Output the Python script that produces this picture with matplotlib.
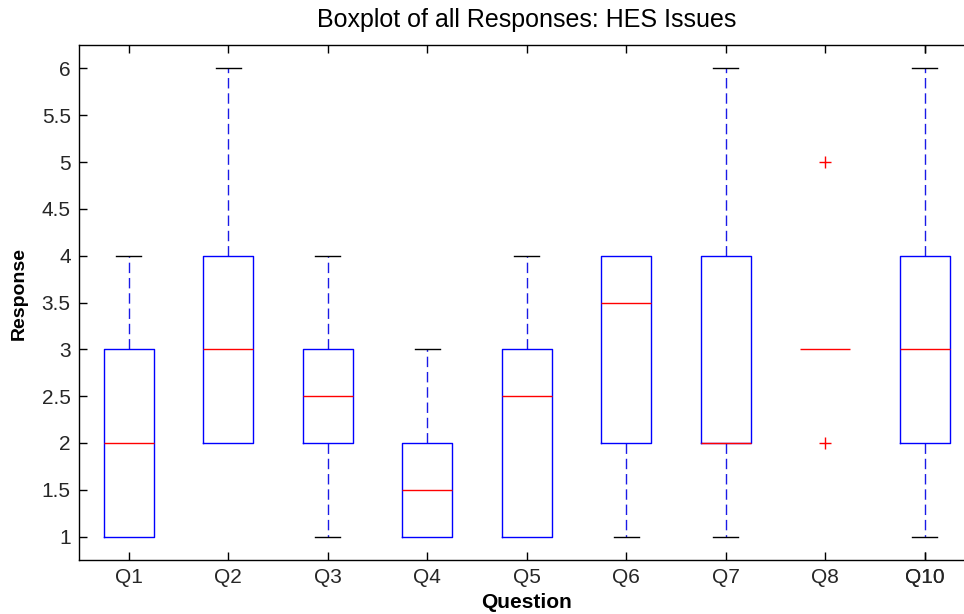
import matplotlib
matplotlib.use("Agg")
import matplotlib.pyplot as plt

plt.rcParams['font.family'] = ['Liberation Sans', 'DejaVu Sans']

# Box summary for each question
questions = ["Q1", "Q2", "Q3", "Q4", "Q5", "Q6", "Q7", "Q8", "Q9"]
medians = [2, 3, 2.5, 1.5, 2.5, 3.5, 2, 3, 3]
q1s = [1, 2, 2, 1, 1, 2, 2, 3, 2]
q3s = [3, 4, 3, 2, 3, 4, 4, 3, 4]
whislo = [1, 2, 1, 1, 1, 1, 1, 3, 1]
whishi = [4, 6, 4, 3, 4, 4, 6, 3, 6]
outliers = [[], [], [], [], [], [], [], [2, 5], []]
extra_label = "Q10"
yticks = [1, 1.5, 2, 2.5, 3, 3.5, 4, 4.5, 5, 5.5, 6]

stats = []
for name, med, lo, hi, wl, wh, fl in zip(questions, medians, q1s, q3s,
                                          whislo, whishi, outliers):
    stats.append(dict(label=name, med=med, q1=lo, q3=hi,
                      whislo=wl, whishi=wh, fliers=fl))

fig = plt.figure(figsize=(9.64, 6.14), dpi=100)
ax = fig.add_axes([79 / 964, 54 / 614, 895.5 / 964, 515 / 614])

positions = list(range(1, len(questions) + 1))
parts = ax.bxp(stats, positions=positions, widths=0.5, showfliers=True,
               boxprops=dict(color="#0000ff", linewidth=1.0),
               medianprops=dict(color="#ff0000", linewidth=1.0),
               whiskerprops=dict(color="#1a1ae6", linewidth=1.0,
                                 linestyle=(0, (7.5, 3.5))),
               capprops=dict(color="black", linewidth=1.0),
               capwidths=0.25,
               flierprops=dict(marker="+", markeredgecolor="#ff0000",
                               markersize=9, markeredgewidth=1.0,
                               linestyle="none"))

# draw order: whiskers/caps below boxes, medians on top
for ln in parts["whiskers"] + parts["caps"]:
    ln.set_zorder(2)
for ln in parts["boxes"]:
    ln.set_zorder(3)
for ln in parts["medians"]:
    ln.set_zorder(4)
# a box with no spread shows only its median line
for box, lo, hi in zip(parts["boxes"], q1s, q3s):
    if lo == hi:
        box.set_visible(False)
# zero-length whiskers leave no visible cap
for i, (lo, hi, wl, wh) in enumerate(zip(q1s, q3s, whislo, whishi)):
    if wl == lo:
        parts["caps"][2 * i].set_visible(False)
    if wh == hi:
        parts["caps"][2 * i + 1].set_visible(False)

ax.set_xlim(0.5, len(questions) + 0.5)
ax.set_ylim(0.75, 6.25)
ax.set_yticks(yticks)
ax.set_yticklabels([f"{v:g}" for v in yticks])
# the extra label shares the last tick position
ax.set_xticks(positions + [positions[-1]])
ax.set_xticklabels(questions + [extra_label])

ax.tick_params(direction="in", top=True, right=True, length=6, width=1.0,
               labelsize=15, labelcolor="#262626", pad=6)
for sp in ax.spines.values():
    sp.set_linewidth(1.0)

ax.set_title("Boxplot of all Responses: HES Issues", fontsize=18, pad=13)
ax.set_xlabel("Question", fontsize=15, fontweight="bold", labelpad=4)
ax.set_ylabel("Response", fontsize=14, fontweight="bold")
ax.yaxis.set_label_coords(-0.057, 0.517)

fig.savefig("out.png", dpi=100)
